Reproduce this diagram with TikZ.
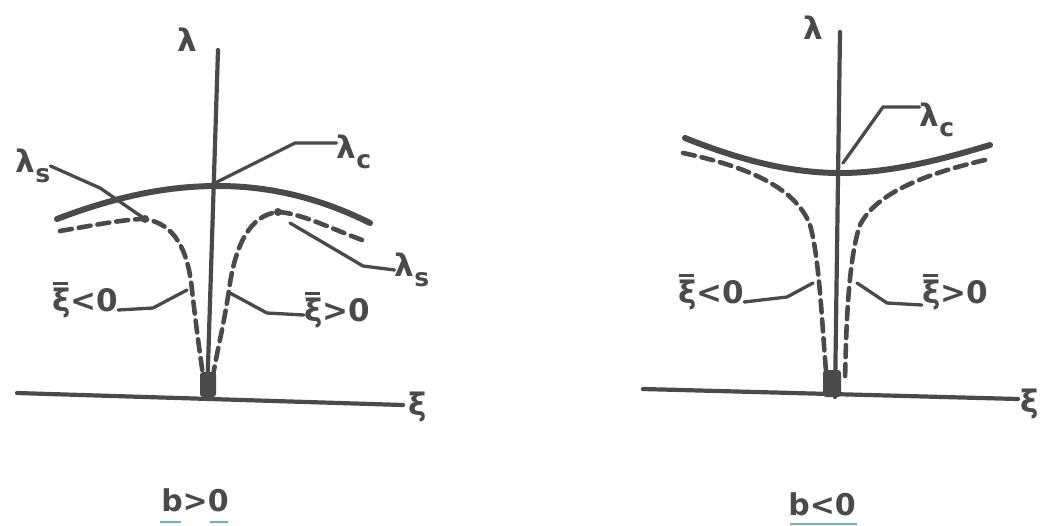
\documentclass[tikz,border=0pt]{standalone}
\usepackage{fontspec}
\setmainfont{DejaVu Sans}
\definecolor{inkc}{HTML}{4A4A4A}
\definecolor{tealc}{HTML}{5FBDB5}
\newcommand{\xibar}{\leavevmode\rlap{\hspace{0.04em}\raisebox{0.86em}{\rule{0.48em}{0.09em}}}ξ}
\newcommand{\lsub}[1]{λ\raisebox{-0.3em}{\fontsize{25}{25}\selectfont\bfseries #1}}
\begin{document}
\begin{tikzpicture}[x=1pt,y=-1pt,
  ink/.style={draw=inkc, line cap=round},
  axis/.style={ink, line width=4.2pt},
  solidc/.style={ink, line width=6pt},
  dashc/.style={ink, line width=4.6pt, dash pattern=on 12pt off 7pt},
  leader/.style={ink, line width=3.3pt, line join=round},
  lbl/.style={text=inkc, font=\fontsize{31}{33}\selectfont\bfseries, inner sep=0pt},
  captxt/.style={text=inkc, font=\fontsize{30}{32}\selectfont\bfseries, inner sep=0pt},
  tealline/.style={draw=tealc, line width=2.5pt}]
\useasboundingbox (0,0) rectangle (1040,525);

% ---------------- left panel (b>0) ----------------
\coordinate (LvT) at (218,50);
\coordinate (LvB) at (207,397);
\coordinate (LhL) at (17,393);
\coordinate (LhR) at (403,405);
\draw[axis] (LvT) -- (LvB);
\draw[axis] (LhL) -- (LhR);

\draw[solidc] (57,219) .. controls (120,195) and (170,186) .. (218,186)
  .. controls (270,186) and (320,198) .. (370,223);
\coordinate (LsL) at (145,219);
\coordinate (LsR) at (278,212);
\draw[dashc] (60,231) .. controls (95,225) and (125,219) .. (LsL)
  .. controls (175,224) and (188,250) .. (192,290)
  .. controls (196,325) and (200,355) .. (204,382);
\draw[dashc] (362,240) .. controls (330,228) and (300,213) .. (LsR)
  .. controls (250,215) and (235,245) .. (229,290)
  .. controls (223,330) and (216,355) .. (212,382);
\fill[inkc] (LsL) circle (4);
\fill[inkc] (LsR) circle (4);
\fill[inkc, rounded corners=3pt] (200,372) rectangle (216,397);

\node[lbl] (lamL) at (187,40) {λ};
\node[lbl] (xiL) at (418,407) {ξ};
\node[lbl] (lcL) at (354,152) {\lsub{c}};
\node[lbl] (lsL1) at (33,166) {\lsub{s}};
\node[lbl] (lsL2) at (412,270) {\lsub{s}};
\node[lbl] (xnL) at (85,300) {\xibar<0};
\node[lbl] (xpL) at (337,310) {\xibar>0};
\node[captxt] (bL) at (195,500) {b>0};

\coordinate (lcLa) at (217,182);
\draw[leader] (lcLa) -- (295,143) -- (lcL.west |- 320,143);
\draw[leader] (lsL1.east) -- (100,188) -- (LsL);
\draw[leader] (290,223) -- (363,266) -- (lsL2.west);
\draw[leader] (xnL.east |- 125,310) -- (153,308) -- (187,290);
\draw[leader] (230,293) -- (267,313) -- (xpL.west |- 315,315);
\draw[tealline] (160,522) -- (181,522);
\draw[tealline] (210,522) -- (228,522);

% ---------------- right panel (b<0) ----------------
\coordinate (RvT) at (840,32);
\coordinate (RvB) at (835,397);
\coordinate (RhL) at (643,389);
\coordinate (RhR) at (1018,399);
\draw[axis] (RvT) -- (RvB);
\draw[axis] (RhL) -- (RhR);

\draw[solidc] (685,138) .. controls (740,160) and (790,173) .. (840,173)
  .. controls (890,173) and (940,160) .. (990,145);
\draw[dashc] (683,153) .. controls (740,165) and (795,185) .. (810,225)
  .. controls (820,260) and (822,330) .. (827,382);
\draw[dashc] (985,160) .. controls (920,175) and (875,195) .. (860,225)
  .. controls (848,260) and (846,330) .. (845,382);
\fill[inkc, rounded corners=3pt] (823,370) rectangle (841,397);

\node[lbl] (lamR) at (813,28) {λ};
\node[lbl] (xiR) at (1030,404) {ξ};
\node[lbl] (lcR) at (937,120) {\lsub{c}};
\node[lbl] (xnR) at (711,292) {\xibar<0};
\node[lbl] (xpR) at (955,292) {\xibar>0};
\node[captxt] (bR) at (822,504) {b<0};

\coordinate (lcRa) at (843,163);
\draw[leader] (lcRa) -- (883,107) -- (lcR.west |- 900,107);
\draw[leader] (xnR.east |- 760,302) -- (787,297) -- (813,283);
\draw[leader] (857,283) -- (887,303) -- (xpR.west |- 905,305);
\draw[tealline] (790,524) -- (857,524);
\end{tikzpicture}
\end{document}
